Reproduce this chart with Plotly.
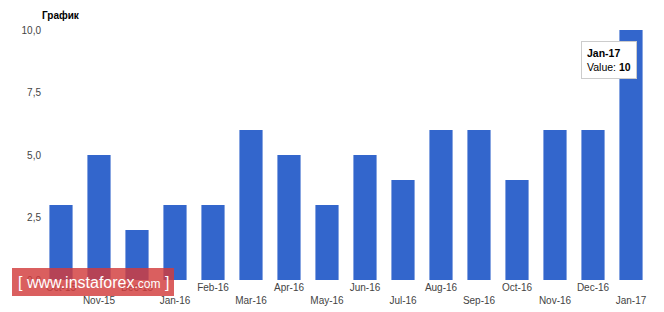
import plotly.graph_objects as go

months = ["Oct-15", "Nov-15", "Dec-15", "Jan-16", "Feb-16", "Mar-16", "Apr-16", "May-16",
          "Jun-16", "Jul-16", "Aug-16", "Sep-16", "Oct-16", "Nov-16", "Dec-16", "Jan-17"]
values = [3, 5, 2, 3, 3, 6, 5, 3, 5, 4, 6, 6, 4, 6, 6, 10]
ytick_vals = [0, 2.5, 5, 7.5, 10]
ytick_text = ["0,0", "2,5", "5,0", "7,5", "10,0"]

# staggered labels: odd positions go on the second line
tick_text = [m if i % 2 == 0 else "<br>" + m for i, m in enumerate(months)]

fig = go.Figure()
fig.add_trace(go.Bar(x=months, y=values, marker_color="#3366CC", marker_line_width=0,
                     name="Value"))

fig.update_layout(
    width=664, height=312,
    margin=dict(l=42, r=14, t=30, b=32, autoexpand=False),
    paper_bgcolor="white", plot_bgcolor="white",
    bargap=0.39,
    showlegend=False,
    font=dict(family="Liberation Sans, Arial, sans-serif", size=10, color="#444"),
    title=dict(text="<b>График</b>", x=42/664, xanchor="left", y=1 - 15/312, yanchor="middle",
               font=dict(size=10, color="#000")),
)
fig.update_xaxes(tickmode="array", tickvals=months, ticktext=tick_text, automargin=False,
                 showgrid=False, showline=False, ticks="", tickfont=dict(size=10, color="#444"),
                 range=[-0.5, len(months) - 0.5])
fig.update_yaxes(range=[0, 10], tickvals=ytick_vals, ticktext=ytick_text, automargin=False,
                 showgrid=False, zeroline=False, showline=False, ticks="",
                 tickfont=dict(size=10, color="#444"))

# tooltip
fig.add_annotation(x=months[-1], y=values[-1], xref="x", yref="y", showarrow=False,
                   text="<b>Jan-17</b><br>Value: <b>10</b>", align="left",
                   xshift=-22, yshift=-30, bgcolor="white", bordercolor="#cccccc",
                   borderwidth=1, borderpad=5, font=dict(size=10.5, color="#000"))

# watermark
fig.add_shape(type="rect", xref="paper", yref="paper",
              x0=-30 / 608, x1=132 / 608, y0=-16 / 250, y1=12 / 250,
              fillcolor="rgba(210,60,60,0.82)", line=dict(width=0), layer="above")
fig.add_annotation(xref="paper", yref="paper", x=51 / 608, y=-2 / 250,
                   xanchor="center", yanchor="middle", showarrow=False,
                   text="[ www.instaforex<span style='font-size:12px'>.com</span> ]",
                   font=dict(size=16, color="white", family="Liberation Sans, Arial, sans-serif"))

fig.write_html("out.html")
